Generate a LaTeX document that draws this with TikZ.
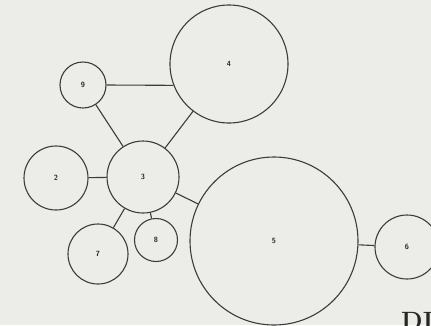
\documentclass[tikz,border=0pt]{standalone}
\usepackage{tikz}
\usetikzlibrary{positioning}
\definecolor{paper}{RGB}{236,237,233}
\definecolor{ink}{RGB}{60,60,58}

\begin{document}
\begin{tikzpicture}[
  x=1pt, y=-1pt,
  font=\fontsize{7.5}{7.5}\selectfont\bfseries\sffamily,
  bub/.style={draw=ink,line width=1.1pt,circle,inner sep=0pt,text=black!85,minimum size=#1},
  link/.style={draw=ink,line width=1.1pt}
]
\clip (0,0) rectangle (431,325);
\fill[paper] (0,0) rectangle (431,325);
% circles, sized by weight
\node[bub=118pt] (n4) at (229,64) {4};
\node[bub=46pt]  (n9) at (83,85) {9};
\node[bub=64pt]  (n2) at (56,178) {2};
\node[bub=72pt]  (n3) at (143,177) {3};
\node[bub=60pt]  (n7) at (98,254) {7};
\node[bub=43pt]  (n8) at (156,240) {8};
\node[bub=168pt] (n5) at (274,241) {5};
\node[bub=64pt]  (n6) at (407,247) {6};
% links
\draw[link] (n9.east) -- (n4.201);
\draw[link] (n9) -- (n3);
\draw[link] (n4) -- (n3);
\draw[link] (n2) -- (n3);
\draw[link] (n3) -- (n7);
\draw[link] (n3) -- (n8);
\draw[link] (n3) -- (n5);
\draw[link] (n5) -- (n6);
\node[anchor=north west,inner sep=0pt,font=\fontsize{25}{25}\selectfont\bfseries\rmfamily,text=black!85] (cap) at (401,312) {DI};
\end{tikzpicture}
\end{document}
